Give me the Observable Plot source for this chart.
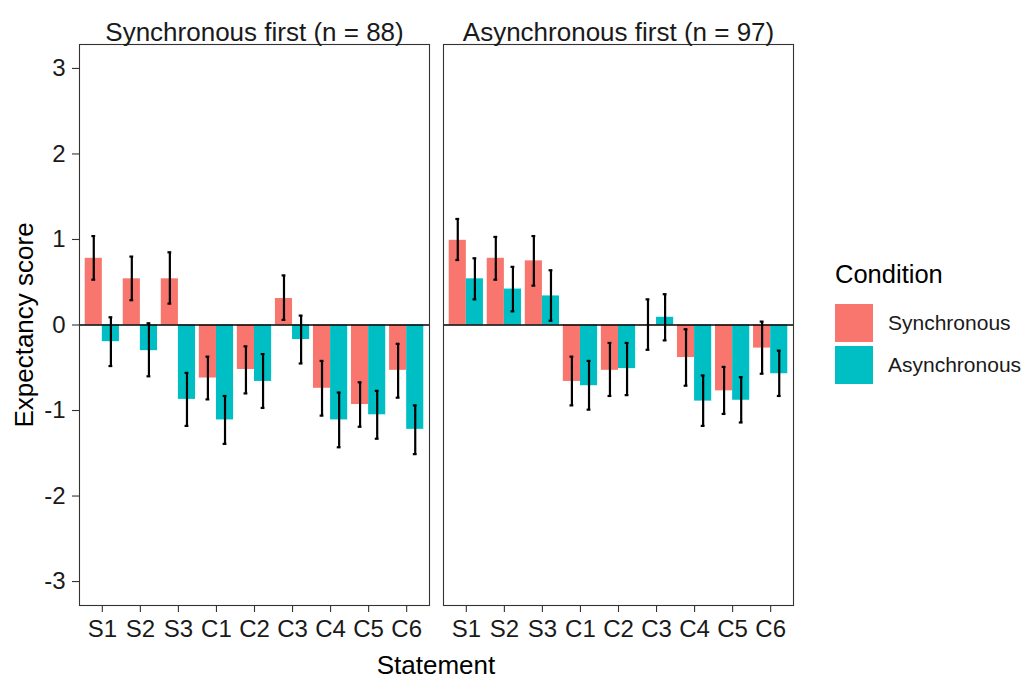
<!DOCTYPE html>
<html>
<head>
<meta charset="utf-8">
<script src="https://cdn.jsdelivr.net/npm/d3@7"></script>
<script src="https://cdn.jsdelivr.net/npm/@observablehq/plot@0.6"></script>
<style>
  body { margin: 0; background: #fff; font-family: "Liberation Sans", Arial, sans-serif; }
  #wrap { position: relative; width: 1025px; height: 682px; }
  #chart { position: absolute; left: 0; top: 0; }
  .lbl { position: absolute; color: #000; font-size: 26px; white-space: nowrap; line-height: 1; }
  #legend { position: absolute; left: 835px; top: 259px; }
  #legend .title { font-size: 25.5px; color: #000; height: 30px; line-height: 30px; margin-bottom: 13px; }
  #legend .item { display: flex; align-items: center; height: 42px; }
  #legend .sw { width: 38px; height: 38px; margin-right: 15px; }
  #legend .txt { font-size: 21px; color: #1a1a1a; }
</style>
</head>
<body>
<div id="wrap">
  <div id="chart"></div>
  <div class="lbl" id="xlab" style="left:436px; top:665px; transform:translate(-50%,-50%);">Statement</div>
  <div class="lbl" id="ylab" style="left:24px; top:325px; transform:translate(-50%,-50%) rotate(-90deg);">Expectancy score</div>
  <div id="legend"></div>
</div>
<script>
const statements = ["S1","S2","S3","C1","C2","C3","C4","C5","C6"];
const conditions = ["Synchronous","Asynchronous"];
const colors = ["#F8766D","#00BFC4"];
const panels = ["Synchronous first (n = 88)","Asynchronous first (n = 97)"];
const yTicks = [-3,-2,-1,0,1,2,3];

// Panel 1: Synchronous first
const p1SyncMean = [0.78,0.54,0.54,-0.62,-0.52,0.31,-0.74,-0.93,-0.53];
const p1SyncLo   = [0.53,0.29,0.25,-0.87,-0.80,0.06,-1.06,-1.19,-0.85];
const p1SyncHi   = [1.04,0.80,0.85,-0.37,-0.25,0.58,-0.42,-0.67,-0.22];
const p1AsyncMean = [-0.195,-0.30,-0.87,-1.11,-0.66,-0.17,-1.11,-1.05,-1.22];
const p1AsyncLo   = [-0.48,-0.60,-1.18,-1.39,-0.97,-0.45,-1.43,-1.33,-1.51];
const p1AsyncHi   = [0.09,0.02,-0.56,-0.83,-0.34,0.11,-0.79,-0.77,-0.94];
// Panel 2: Asynchronous first
const p2SyncMean = [0.99,0.78,0.75,-0.66,-0.53,0.005,-0.38,-0.77,-0.27];
const p2SyncLo   = [0.76,0.53,0.46,-0.94,-0.83,-0.29,-0.71,-1.04,-0.57];
const p2SyncHi   = [1.24,1.03,1.04,-0.37,-0.21,0.30,-0.05,-0.49,0.04];
const p2AsyncMean = [0.54,0.42,0.34,-0.71,-0.51,0.09,-0.89,-0.88,-0.57];
const p2AsyncLo   = [0.30,0.16,0.05,-0.99,-0.82,-0.18,-1.18,-1.14,-0.83];
const p2AsyncHi   = [0.78,0.68,0.64,-0.42,-0.21,0.36,-0.59,-0.61,-0.30];

const series = [
  {panel: panels[0], cond: conditions[0], mean: p1SyncMean, lo: p1SyncLo, hi: p1SyncHi},
  {panel: panels[0], cond: conditions[1], mean: p1AsyncMean, lo: p1AsyncLo, hi: p1AsyncHi},
  {panel: panels[1], cond: conditions[0], mean: p2SyncMean, lo: p2SyncLo, hi: p2SyncHi},
  {panel: panels[1], cond: conditions[1], mean: p2AsyncMean, lo: p2AsyncLo, hi: p2AsyncHi}
];

// ggplot-style dodge: group width 0.9, each bar 0.45
const dodgeW = 0.9, barW = dodgeW / conditions.length, capW = 0.1;
const rows = [];
for (const s of series) {
  const ci = conditions.indexOf(s.cond);
  statements.forEach((st, i) => {
    const center = i + 1 - dodgeW / 2 + barW * (ci + 0.5);
    rows.push({panel: s.panel, cond: s.cond, statement: st, pos: center,
               x1: center - barW / 2, x2: center + barW / 2,
               mean: s.mean[i], lo: s.lo[i], hi: s.hi[i]});
  });
}

const font = '"Liberation Sans", Arial, sans-serif';
const chart = Plot.plot({
  width: 800,
  height: 682,
  marginLeft: 79,
  marginRight: 7,
  marginTop: 44,
  marginBottom: 77,
  style: {fontFamily: font, background: "transparent", overflow: "visible"},
  fx: {domain: panels, paddingInner: 14 / 364, paddingOuter: 0, axis: null, label: null},
  x: {domain: [0.4, statements.length + 0.6], axis: null},
  y: {domain: [-3.28, 3.28], axis: null},
  color: {domain: conditions, range: colors},
  marks: [
    Plot.rectY(rows, {fx: "panel", x1: "x1", x2: "x2", y1: 0, y2: "mean", fill: "cond"}),
    Plot.ruleY([0], {stroke: "#000", strokeWidth: 1.3}),
    Plot.ruleX(rows, {fx: "panel", x: "pos", y1: "lo", y2: "hi", stroke: "#000", strokeWidth: 2.2}),
    Plot.ruleY(rows, {fx: "panel", y: "lo", x1: d => d.pos - capW / 2, x2: d => d.pos + capW / 2, stroke: "#000", strokeWidth: 2.2}),
    Plot.ruleY(rows, {fx: "panel", y: "hi", x1: d => d.pos - capW / 2, x2: d => d.pos + capW / 2, stroke: "#000", strokeWidth: 2.2}),
    Plot.frame({stroke: "#333", strokeWidth: 1.1}),
    Plot.axisX(d3.range(1, statements.length + 1), {
      anchor: "bottom", tickSize: 7, tickPadding: 7, fontSize: 24, stroke: "#333", strokeWidth: 1.1,
      fill: "#1a1a1a", tickFormat: i => statements[i - 1], label: null
    }),
    Plot.axisY(yTicks, {
      anchor: "left", tickSize: 7, tickPadding: 7, fontSize: 24, stroke: "#333", strokeWidth: 1.1,
      fill: "#1a1a1a", tickFormat: d => d < 0 ? "-" + Math.abs(d) : String(d), label: null,
      facetAnchor: "left"
    }),
    Plot.text(panels, {fx: d => d, text: d => d, frameAnchor: "top", dy: -22, fontSize: 26, fill: "#1a1a1a"})
  ]
});
document.getElementById("chart").appendChild(chart);

const legend = document.getElementById("legend");
const t = document.createElement("div");
t.className = "title"; t.textContent = "Condition";
legend.appendChild(t);
conditions.forEach((c, i) => {
  const it = document.createElement("div"); it.className = "item";
  const sw = document.createElement("div"); sw.className = "sw"; sw.style.background = colors[i];
  const tx = document.createElement("div"); tx.className = "txt"; tx.textContent = c;
  it.appendChild(sw); it.appendChild(tx); legend.appendChild(it);
});
</script>
</body>
</html>
